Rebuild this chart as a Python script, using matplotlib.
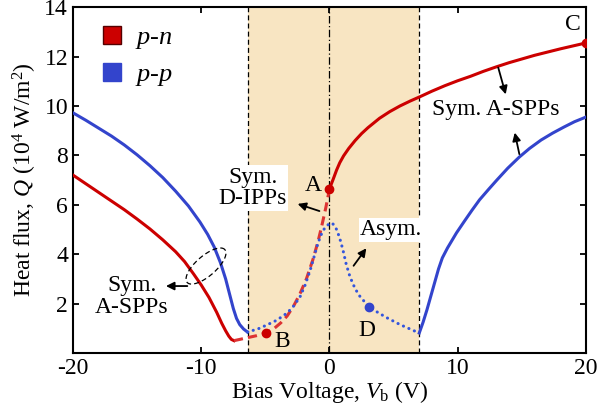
import numpy as np
import matplotlib
matplotlib.use('Agg')
import matplotlib.pyplot as plt
from matplotlib.lines import Line2D

plt.rcParams['font.family'] = ['Liberation Serif', 'DejaVu Serif']
plt.rcParams['mathtext.fontset'] = 'custom'
plt.rcParams['mathtext.rm'] = 'Liberation Serif'
plt.rcParams['mathtext.it'] = 'Liberation Serif:italic'
plt.rcParams['font.size'] = 17
plt.rcParams['axes.unicode_minus'] = False

# p-n junction (red): solid left branch, dashed inside window, solid right branch
pn_left_v = [-20, -19, -18, -17, -16, -15, -14, -13, -12, -11.3, -10.6, -10, -9.4,
             -8.8, -8.4, -8.1, -7.85, -7.65, -7.45]
pn_left_q = [7.2, 6.85, 6.5, 6.15, 5.8, 5.42, 5.02, 4.58, 4.1, 3.7, 3.2, 2.75, 2.25,
             1.65, 1.2, 0.9, 0.68, 0.55, 0.5]
pn_mid_v = [-7.45, -7.0, -6.4, -5.7, -4.95, -4.3, -3.8, -3.3, -2.8, -2.3, -1.8, -1.3,
            -0.9, -0.6, -0.3, 0]
pn_mid_q = [0.5, 0.55, 0.62, 0.7, 0.81, 1.0, 1.22, 1.5, 1.9, 2.4, 3.0, 3.77,
            4.5, 5.15, 5.85, 6.64]
pn_right_v = [0, 0.15, 0.3, 0.55, 0.8, 1.1, 1.5, 2, 2.5, 3, 3.9, 4.7, 5.5, 6.3, 7,
              8, 9, 10, 11, 12, 13, 14, 15, 16, 17, 18, 19, 20]
pn_right_q = [6.64, 6.85, 7.05, 7.4, 7.7, 7.98, 8.28, 8.6, 8.88, 9.12, 9.5, 9.77,
              10.0, 10.2, 10.36, 10.6, 10.82, 11.02, 11.2, 11.4, 11.58, 11.75,
              11.9, 12.05, 12.18, 12.31, 12.43, 12.55]

# p-p junction (blue)
pp_left_v = [-20, -19, -18, -17, -16, -15, -14, -13, -12, -11, -10.1, -9.5, -9.0,
             -8.5, -8.1, -7.8, -7.5, -7.25, -7.0, -6.7, -6.4]
pp_left_q = [9.72, 9.42, 9.1, 8.78, 8.42, 8.02, 7.58, 7.1, 6.55, 5.95, 5.3, 4.8, 4.3,
             3.65, 3.0, 2.4, 1.8, 1.4, 1.15, 0.97, 0.85]
pp_mid_v = [-6.4, -5.6, -4.9, -4.1, -3.3, -2.8, -2.3, -1.9, -1.5, -1.2, -0.9, -0.6,
            -0.35, 0, 0.2, 0.4, 0.6, 0.85, 1.05, 1.3, 1.6, 2.0, 2.4, 3.1, 3.9, 4.5,
            5.5, 6.5, 7.0]
pp_mid_q = [0.85, 0.97, 1.13, 1.33, 1.62, 1.9, 2.27, 2.75, 3.36, 3.9, 4.45, 4.85,
            5.08, 5.24, 5.26, 5.15, 4.95, 4.55, 4.17, 3.6, 3.08, 2.6, 2.27, 1.86,
            1.6, 1.42, 1.15, 0.92, 0.81]
pp_right_v = [7.0, 7.3, 7.6, 7.9, 8.2, 8.5, 8.8, 9.2, 9.9, 10.5, 11.1, 11.7, 12.4,
              13.05, 13.9, 14.8, 15.6, 16.5, 17.4, 18.3, 19.1, 20]
pp_right_q = [0.81, 1.25, 1.75, 2.3, 2.85, 3.4, 3.85, 4.25, 4.86, 5.32, 5.77, 6.2,
              6.62, 7.0, 7.48, 7.93, 8.28, 8.62, 8.9, 9.15, 9.36, 9.55]

# labelled points A, B, C, D
pt_names = ['A', 'B', 'C', 'D']
pt_v = [0, -4.95, 20, 3.1]
pt_q = [6.64, 0.81, 12.55, 1.86]

window = (-6.35, 6.95)

red = '#cc0000'
red_dash = '#dd3333'
blue = '#3344cc'

fig = plt.figure(figsize=(6.01, 4.18), dpi=100)
ax = fig.add_axes([0.1215, 0.1555, 0.8535, 0.8275])

ax.axvspan(window[0], window[1], color='#f8e5c2', lw=0, zorder=0)
for v in window:
    ax.axvline(v, color='k', ls=(0, (4, 2.5)), lw=0.9, zorder=1)
ax.axvline(0, color='k', ls=(0, (6, 2, 1, 2)), lw=0.9, zorder=1)

lw = 2.2
ax.plot(pn_left_v, pn_left_q, color=red, lw=lw, zorder=3)
ax.plot(pn_mid_v, pn_mid_q, color=red_dash, lw=lw, ls=(0, (3, 1.7)), zorder=3)
ax.plot(pn_right_v, pn_right_q, color=red, lw=lw, zorder=3)
ax.plot(pp_left_v, pp_left_q, color=blue, lw=lw, zorder=3)
ax.plot(pp_mid_v, pp_mid_q, color='#3355dd', lw=lw, ls=(0, (0.05, 1.9)),
        dash_capstyle='round', zorder=3)
ax.plot(pp_right_v, pp_right_q, color=blue, lw=lw, zorder=3)

pt_colors = [red, red, red, blue]
for v, q, c in zip(pt_v, pt_q, pt_colors):
    ax.plot(v, q, 'o', color=c, ms=6, zorder=4)

ax.text(-1.25, 6.76, 'A', ha='center', va='center', zorder=5)
ax.text(-3.7, 0.45, 'B', ha='center', va='center', zorder=5)
ax.text(19.0, 13.3, 'C', ha='center', va='center', zorder=5)
ax.text(2.9, 0.93, 'D', ha='center', va='center', zorder=5)

box = dict(facecolor='white', edgecolor='none', pad=1)
ax.text(-6.0, 6.68, 'Sym.\nD-IPPs', ha='center', va='center', bbox=box,
        linespacing=1.05, zorder=5)
ax.text(4.8, 4.98, 'Asym.', ha='center', va='center', bbox=box, zorder=5)
ax.text(13.0, 9.84, 'Sym. A-SPPs', ha='center', va='center', zorder=5)
ax.text(-15.4, 2.3, 'Sym.\nA-SPPs', ha='center', va='center',
        linespacing=1.05, zorder=5)

arrow = dict(arrowstyle='-|>', color='k', lw=1.3, mutation_scale=12)
ax.annotate('', xy=(-2.69, 6.07), xytext=(-0.58, 5.71), arrowprops=arrow, zorder=6)
ax.annotate('', xy=(3.0, 4.33), xytext=(1.75, 3.44), arrowprops=arrow, zorder=6)
ax.annotate('', xy=(13.8, 10.36), xytext=(13.1, 11.66), arrowprops=arrow, zorder=6)
ax.annotate('', xy=(14.4, 9.03), xytext=(14.85, 7.94), arrowprops=arrow, zorder=6)
ax.annotate('', xy=(-12.97, 2.71), xytext=(-10.87, 2.71), arrowprops=arrow, zorder=6)

# dashed ellipse around the left branches, drawn in pixel space
px_v = 0.8535 * 601 / 40
px_q = 0.8275 * 418 / 14
t = np.linspace(0, 2 * np.pi, 200)
a, b, th = 25, 10, np.deg2rad(41)
dx = a * np.cos(t) * np.cos(th) - b * np.sin(t) * np.sin(th)
dy = a * np.cos(t) * np.sin(th) + b * np.sin(t) * np.cos(th)
ax.plot(-9.63 + dx / px_v, 3.52 + dy / px_q, color='k', lw=0.9,
        ls=(0, (4, 2.5)), zorder=5)

ax.set_xlim(-20, 20)
ax.set_ylim(0, 14)
ax.set_xticks([-20, -10, 0, 10, 20])
ax.set_yticks([2, 4, 6, 8, 10, 12, 14])
ax.tick_params(direction='in', top=True, right=True, width=1.3, length=4)
for s in ax.spines.values():
    s.set_linewidth(1.5)
ax.set_xlabel(r'Bias Voltage, $V_\mathrm{b}$ (V)', labelpad=0)
ax.set_ylabel(r'Heat flux, $Q$ (10$^4$ W/m$^2$)', labelpad=4)

handles = [Line2D([], [], marker='s', ls='none', mfc=red, mec='#550000', ms=13),
           Line2D([], [], marker='s', ls='none', mfc=blue, mec=blue, ms=13)]
ax.legend(handles, ['$p$-$n$', '$p$-$p$'], loc='upper left', frameon=False,
          bbox_to_anchor=(0.003, 1.015), handlelength=1.0, handletextpad=0.4,
          labelspacing=0.45, fontsize=19)

fig.savefig('out.png', dpi=100)
